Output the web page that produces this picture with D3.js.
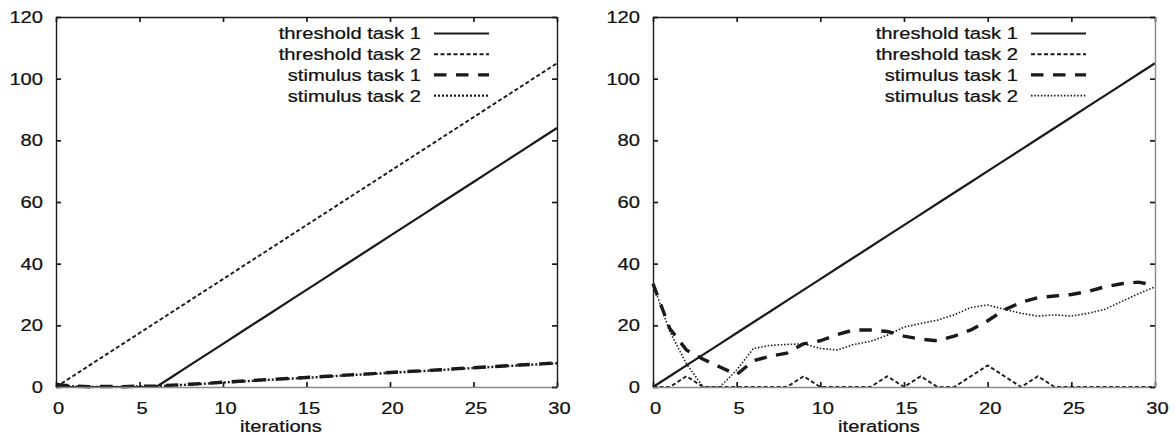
<!DOCTYPE html>
<html>
<head>
<meta charset="utf-8">
<script src="https://cdn.jsdelivr.net/npm/d3@7"></script>
<style>
  html, body { margin: 0; padding: 0; background: #fff; }
  svg { display: block; }
  text { font-family: "Liberation Sans", Arial, sans-serif; fill: #111; stroke: #111; stroke-width: 0.25px; }
</style>
</head>
<body>
<div id="chart"></div>
<script>
// -------------------------------------------------------------------------
// Data

const iterations = [0, 1, 2, 3, 4, 5, 6, 7, 8, 9, 10, 11, 12, 13, 14, 15,
  16, 17, 18, 19, 20, 21, 22, 23, 24, 25, 26, 27, 28, 29, 30];
const xTicks = [0, 5, 10, 15, 20, 25, 30];
const yTicks = [0, 20, 40, 60, 80, 100, 120];
const xLabel = 'iterations';
const legendLabels = ['threshold task 1', 'threshold task 2', 'stimulus task 1', 'stimulus task 2'];

// left panel
const leftThreshold1 = [0, 0, 0, 0, 0, 0, 0, 3.5, 7, 10.5, 14, 17.5, 21, 24.5, 28, 31.5,
  35, 38.5, 42, 45.5, 49, 52.5, 56, 59.5, 63, 66.5, 70, 73.5, 77, 80.5, 84];
const leftThreshold2 = [0, 3.5, 7, 10.5, 14, 17.5, 21, 24.5, 28, 31.5, 35, 38.5, 42, 45.5, 49, 52.5,
  56, 59.5, 63, 66.5, 70, 73.5, 77, 80.5, 84, 87.5, 91, 94.5, 98, 101.5, 105];
const leftStimulus1 = [0.8, 0.3, 0.1, 0.2, 0.1, 0.3, 0.3, 0.6, 0.9, 1.2, 1.55, 1.85, 2.2, 2.5, 2.8, 3.1,
  3.4, 3.75, 4.05, 4.35, 4.7, 5, 5.3, 5.6, 5.95, 6.25, 6.55, 6.9, 7.2, 7.5, 7.8];
const leftStimulus2 = [0.6, 0.2, 0, 0.1, 0, 0.2, 0.2, 0.5, 0.8, 1.1, 1.45, 1.75, 2.1, 2.4, 2.7, 3.0,
  3.3, 3.65, 3.95, 4.25, 4.6, 4.9, 5.2, 5.5, 5.85, 6.15, 6.45, 6.8, 7.1, 7.4, 7.7];

// right panel
const rightThreshold1 = [0, 3.5, 7, 10.5, 14, 17.5, 21, 24.5, 28, 31.5, 35, 38.5, 42, 45.5, 49, 52.5,
  56, 59.5, 63, 66.5, 70, 73.5, 77, 80.5, 84, 87.5, 91, 94.5, 98, 101.5, 105];
const rightThreshold2 = [0, 0, 3.5, 0, 0, 0, 0, 0, 0, 3.5, 0, 0, 0, 0, 3.5, 0,
  3.5, 0, 0, 3.5, 7, 3.5, 0, 3.5, 0, 0, 0, 0, 0, 0, 0];
const rightStimulus1 = [33.5, 19, 12, 9, 6.5, 4, 8.5, 10, 11, 14, 15, 17, 18.5, 18.5, 18, 16.5,
  15.5, 15, 16.5, 18.5, 21.5, 25, 27.5, 29, 29.5, 30, 31, 32.5, 33.5, 34, 33];
const rightStimulus2 = [33.5, 18, 7.5, 0, 0, 5.5, 12.5, 13.5, 13.8, 14, 12.5, 12, 13.8, 14.8, 16.8, 19.4,
  20.6, 21.7, 23.4, 25.8, 26.6, 25.2, 23.9, 23, 23.4, 23, 23.9, 25.2, 27.7, 30.2, 32.5];

// -------------------------------------------------------------------------
// Layout

const W = 1176;
const H = 436;
const stretch = 1.2;   // the reference text is wider than it is tall
const ink = '#1a1a1a';
const fontSize = '16.8px';

const svg = d3.select('#chart')
  .append('svg')
  .attr('width', W)
  .attr('height', H);

function label(g, x, y, txt, anchor) {
  return g.append('text')
    .attr('transform', `translate(${x},${y}) scale(${stretch},1)`)
    .attr('text-anchor', anchor)
    .style('font-size', fontSize)
    .text(txt);
}

function drawPanel(left, width, series, styles, rightEdgeColor, xLabelX) {
  const top = 17;
  const height = 370;
  const g = svg.append('g').attr('transform', `translate(${left},${top})`);

  const x = d3.scaleLinear().domain([0, 30]).range([0, width]);
  const y = d3.scaleLinear().domain([0, 120]).range([height, 0]);

  // lines first, frame on top
  const line = (vals) => d3.line()
    .x((d, i) => x(iterations[i]))
    .y((d) => y(d))(vals);

  series.forEach((vals, i) => {
    g.append('path')
      .attr('d', line(vals))
      .attr('fill', 'none')
      .attr('stroke', ink)
      .attr('stroke-width', styles[i].w)
      .attr('stroke-dasharray', styles[i].dash)
      .attr('stroke-linejoin', 'round');
  });

  const yAxis = g.append('g')
    .call(d3.axisLeft(y).tickValues(yTicks).tickSize(-5).tickSizeOuter(0).tickPadding(13));
  const xAxis = g.append('g')
    .attr('transform', `translate(0,${height})`)
    .call(d3.axisBottom(x).tickValues(xTicks).tickSize(-5).tickSizeOuter(0).tickPadding(15));
  const topAxis = g.append('g')
    .call(d3.axisTop(x).tickValues(xTicks).tickSize(-5).tickSizeOuter(0).tickFormat(''));
  const rightAxis = g.append('g')
    .attr('transform', `translate(${width},0)`)
    .call(d3.axisRight(y).tickValues(yTicks).tickSize(-5).tickSizeOuter(0).tickFormat(''));

  [yAxis, xAxis, topAxis, rightAxis].forEach((a) => {
    a.selectAll('line').attr('stroke', ink).attr('stroke-width', 1.7);
    a.select('.domain').attr('stroke', ink).attr('stroke-width', 1.4);
    a.selectAll('text')
      .style('font-size', fontSize)
      .attr('fill', '#111')
      .style('font-family', '"Liberation Sans", Arial, sans-serif');
  });
  xAxis.select('.domain').attr('stroke', '#8a8a8a');
  rightAxis.select('.domain').attr('stroke', rightEdgeColor);

  yAxis.selectAll('text')
    .attr('x', -13 / stretch)
    .attr('transform', `scale(${stretch},1)`);
  xAxis.selectAll('text')
    .attr('x', 2 / stretch)
    .attr('transform', `scale(${stretch},1)`);

  label(g, xLabelX, 415, xLabel, 'middle');

  // legend
  const rows = [16.5, 37.2, 57.9, 78.6];
  legendLabels.forEach((name, i) => {
    label(g, 365, rows[i] + 5.9, name, 'end');
    g.append('line')
      .attr('x1', 378).attr('x2', 433)
      .attr('y1', rows[i]).attr('y2', rows[i])
      .attr('stroke', ink)
      .attr('stroke-width', styles[i].w)
      .attr('stroke-dasharray', styles[i].dash);
  });
}

drawPanel(56, 501,
  [leftThreshold1, leftThreshold2, leftStimulus1, leftStimulus2],
  [{w: 2.2, dash: null}, {w: 1.9, dash: '4,2.5'}, {w: 3.4, dash: '12.5,9.5'}, {w: 2.4, dash: '2,2'}],
  ink, 225);

drawPanel(653, 502,
  [rightThreshold1, rightThreshold2, rightStimulus1, rightStimulus2],
  [{w: 2.2, dash: null}, {w: 1.9, dash: '4,2.5'}, {w: 3.4, dash: '12.5,9.5'}, {w: 1.6, dash: '1.5,1.8'}],
  '#8a8a8a', 226);
</script>
</body>
</html>
